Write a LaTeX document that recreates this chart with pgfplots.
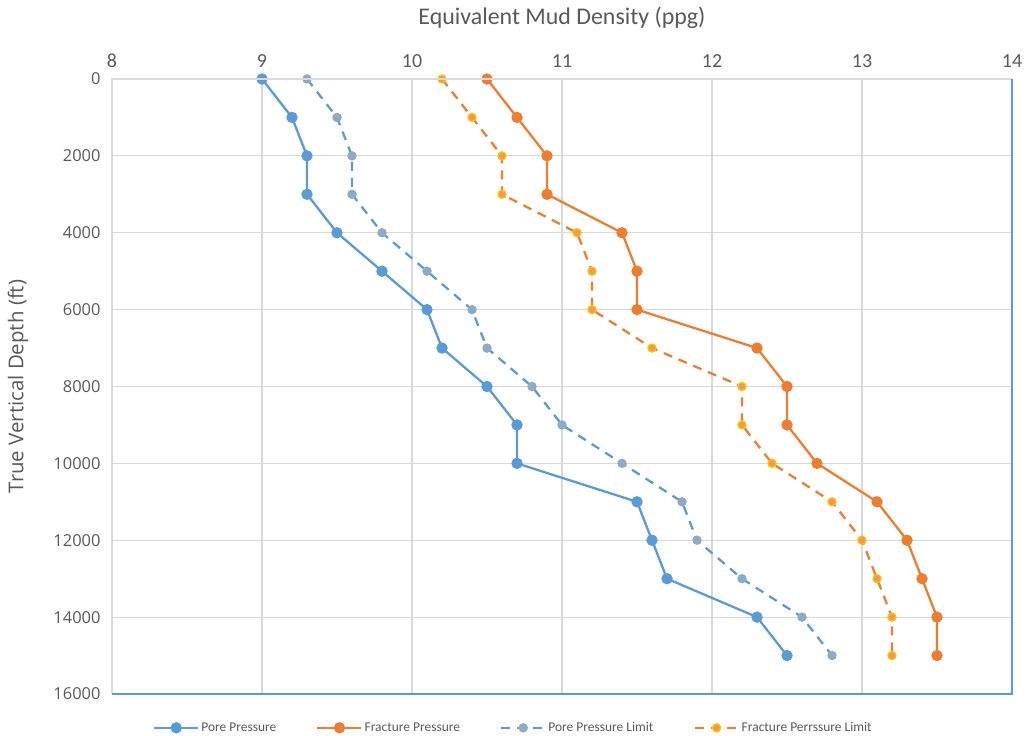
\documentclass[border=0pt]{standalone}
\usepackage{pgfplots}
\pgfplotsset{compat=1.18}
\usepackage{fontspec}
\setmainfont{Carlito}
\newfontfamily\opensans{Open Sans}
\definecolor{cblue}{HTML}{5B9BD5}
\definecolor{corange}{HTML}{ED7D31}
\definecolor{cgold}{HTML}{FFC000}
\definecolor{cgray}{HTML}{A5A5A5}
\definecolor{cgrid}{HTML}{D9D9D9}
\definecolor{ctext}{HTML}{595959}
\begin{document}
\begin{tikzpicture}[x=1bp,y=1bp]
\path[use as bounding box] (0,0) rectangle (1027,736);
\begin{axis}[
  name=ax,
  at={(112bp,42bp)}, anchor=south west,
  scale only axis, width=900bp, height=615bp,
  xmin=8, xmax=14, ymin=0, ymax=16000,
  y dir=reverse,
  scaled ticks=false,
  xtick={8,...,14}, ytick={0,2000,...,16000},
  xticklabel pos=top,
  major tick length=0pt,
  grid=major,
  grid style={cgrid, line width=1.2pt},
  axis line style={draw=none},
  /pgf/number format/1000 sep={},
  /pgf/number format/assume math mode=true,
  xticklabel style={font=\fontsize{20}{20}\selectfont, text=ctext, yshift=8bp},
  yticklabel style={font=\opensans\fontsize{16.5}{16.5}\selectfont, text=ctext, xshift=-8bp},
  xlabel={Equivalent Mud Density (ppg)},
  ylabel={True Vertical Depth (ft)},
  every axis x label/.style={at={(axis description cs:0.5,1)}, yshift=61bp, anchor=center, font=\fontsize{24}{24}\selectfont, text=ctext},
  every axis y label/.style={at={(axis description cs:0,0.5)}, xshift=-94bp, rotate=90, anchor=center, font=\opensans\fontsize{20.5}{20.5}\selectfont, text=ctext},
  legend columns=4,
  legend style={at={(axis description cs:0.446,-0.055)}, anchor=center, draw=none, fill=none,
    font=\fontsize{13.5}{13.5}\selectfont, text=ctext, /tikz/every even column/.append style={column sep=38bp}},
  legend image code/.code={\draw[mark repeat=2,mark phase=2] plot coordinates {(0bp,0bp) (22bp,0bp) (44bp,0bp)};},
  legend cell align=left,
]
\addplot[cblue, line width=2.3pt, mark=*, mark size=4.5bp, mark options={fill=cblue, draw=cblue}] coordinates {
(9.0,0) (9.2,1000) (9.3,2000) (9.3,3000) (9.5,4000) (9.8,5000) (10.1,6000) (10.2,7000)
(10.5,8000) (10.7,9000) (10.7,10000) (11.5,11000) (11.6,12000) (11.7,13000) (12.3,14000) (12.5,15000)};
\addlegendentry{Pore Pressure}
\addplot[corange, line width=2.3pt, mark=*, mark size=4.5bp, mark options={fill=corange, draw=corange}] coordinates {
(10.5,0) (10.7,1000) (10.9,2000) (10.9,3000) (11.4,4000) (11.5,5000) (11.5,6000) (12.3,7000)
(12.5,8000) (12.5,9000) (12.7,10000) (13.1,11000) (13.3,12000) (13.4,13000) (13.5,14000) (13.5,15000)};
\addlegendentry{Fracture Pressure}
\addplot[cblue, line width=2.3pt, dash pattern=on 9bp off 7bp, mark=*, mark size=4bp, mark options={solid, fill=cblue!80!white, draw=cgray, line width=1.4pt}] coordinates {
(9.3,0) (9.5,1000) (9.6,2000) (9.6,3000) (9.8,4000) (10.1,5000) (10.4,6000) (10.5,7000)
(10.8,8000) (11.0,9000) (11.4,10000) (11.8,11000) (11.9,12000) (12.2,13000) (12.6,14000) (12.8,15000)};
\addlegendentry{Pore Pressure Limit}
\addplot[corange, line width=2.3pt, dash pattern=on 9bp off 7bp, mark=*, mark size=4bp, mark options={solid, fill=corange!80!white, draw=cgold, line width=1.4pt}] coordinates {
(10.2,0) (10.4,1000) (10.6,2000) (10.6,3000) (11.1,4000) (11.2,5000) (11.2,6000) (11.6,7000)
(12.2,8000) (12.2,9000) (12.4,10000) (12.8,11000) (13.0,12000) (13.1,13000) (13.2,14000) (13.2,15000)};
\addlegendentry{Fracture Perrssure Limit}
\end{axis}
\draw[cgrid, line width=1.2pt] (ax.south west) -- (ax.north west) -- (ax.north east);
\draw[cblue, line width=1.2pt] (ax.north east) -- (ax.south east) -- (ax.south west);
\end{tikzpicture}
\end{document}
